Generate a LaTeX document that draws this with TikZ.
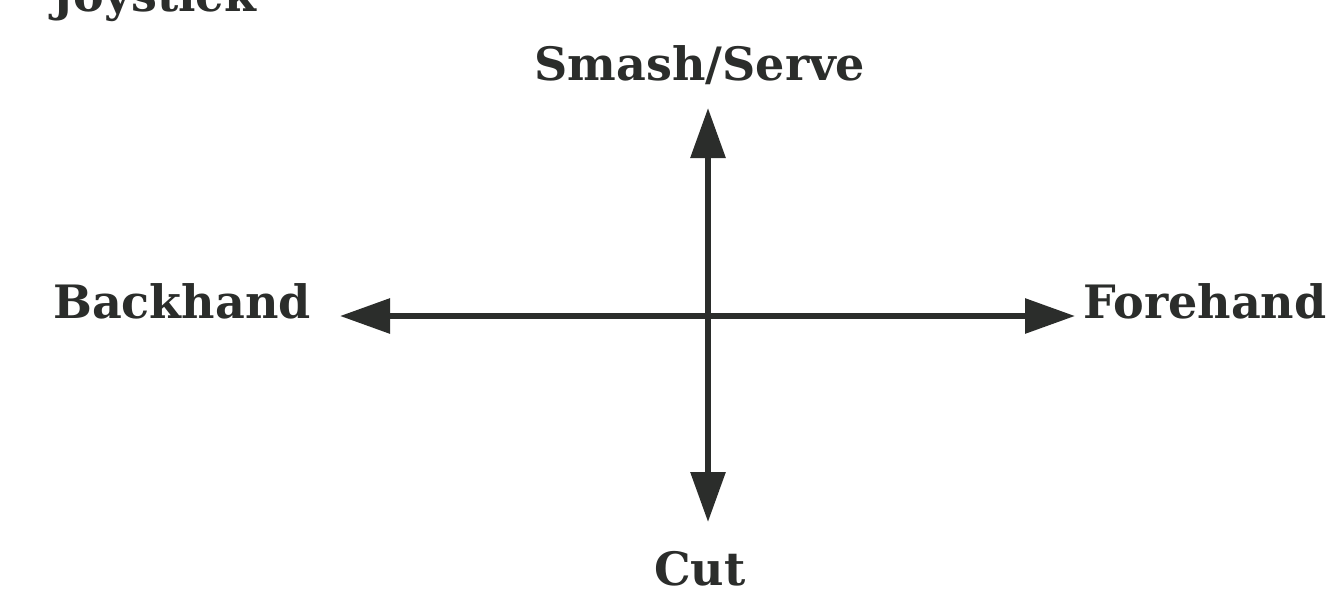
\documentclass[tikz,border=0pt]{standalone}
\usepackage{fontspec}
\setmainfont{DejaVu Serif}
\usetikzlibrary{arrows.meta}
\definecolor{ink}{HTML}{2B2D2B}
\begin{document}
\begin{tikzpicture}[x=1pt,y=-1pt,
  lbl/.style={font=\bfseries\fontsize{46}{46}\selectfont, text=ink, inner sep=0pt},
  axis/.style={line width=6pt, draw=ink, fill=ink,
    {Triangle[length=50pt,width=34pt]}-{Triangle[length=50pt,width=34pt]}}]
\useasboundingbox (0,0) rectangle (1329,600);
\fill[white] (0,0) rectangle (1329,600);
\node[lbl, anchor=base west] (joy) at (52,11) {Joystick};
\node[lbl, anchor=base] (smash) at (700,80) {Smash/Serve};
\node[lbl, anchor=base west] (back) at (53,318) {Backhand};
\node[lbl, anchor=base west] (fore) at (1083,318) {Forehand};
\node[lbl, anchor=base] (cut) at (700,585) {Cut};
\coordinate (L) at (340,316);
\coordinate (R) at (1075,316);
\coordinate (T) at (708,108);
\coordinate (B) at (708,522);
\draw[axis] (L) -- (R);
\draw[axis] (T) -- (B);
\end{tikzpicture}
\end{document}
